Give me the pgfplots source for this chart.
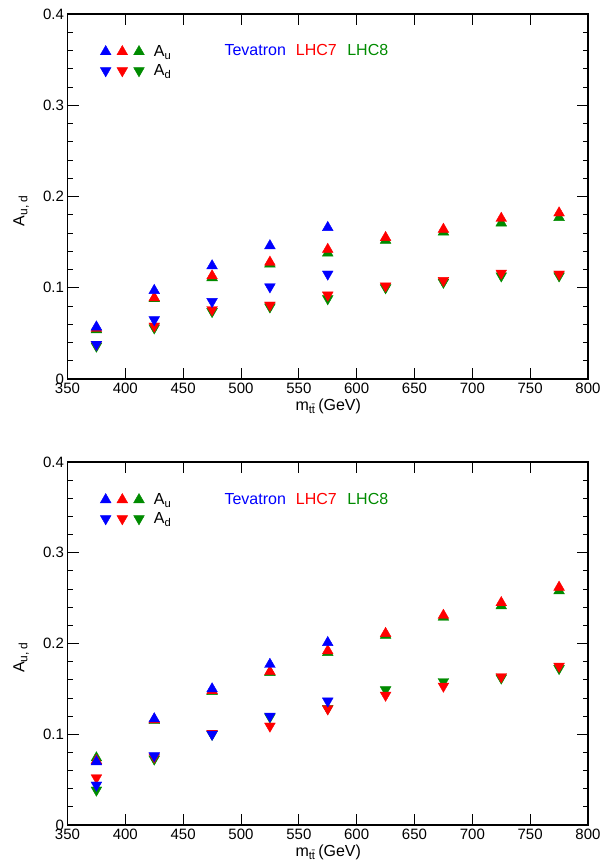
\documentclass[border=0pt]{standalone}
\usepackage{fontspec}
\setmainfont{Liberation Sans}
\usepackage{pgfplots}
\pgfplotsset{compat=1.18}
\usepackage{pgfplotstable}
\definecolor{gblue}{RGB}{0,0,255}
\definecolor{gred}{RGB}{255,0,0}
\definecolor{ggreen}{RGB}{0,139,0}

% top panel
\pgfplotstableread{
x up down
375 0.057 0.038
425 0.097 0.065
475 0.124 0.085
525 0.146 0.101
575 0.166 0.115
}\topTev
\pgfplotstableread{
x up down
375 0.0555 0.038
425 0.089 0.058
475 0.113 0.076
525 0.128 0.081
575 0.142 0.092
625 0.155 0.102
675 0.164 0.108
725 0.176 0.116
775 0.182 0.115
}\topLHCseven
\pgfplotstableread{
x up down
375 0.054 0.036
425 0.088 0.056
475 0.111 0.074
525 0.126 0.079
575 0.138 0.088
625 0.152 0.100
675 0.161 0.106
725 0.171 0.113
775 0.177 0.113
}\topLHCeight
% bottom panel
\pgfplotstableread{
x up down
375 0.0697 0.044
425 0.117 0.0763
475 0.150 0.100
525 0.177 0.120
575 0.201 0.1366
}\botTev
\pgfplotstableread{
x up down
375 0.071 0.052
425 0.116 0.075
475 0.148 0.101
525 0.169 0.109
575 0.192 0.128
625 0.211 0.143
675 0.231 0.153
725 0.245 0.1635
775 0.262 0.175
}\botLHCseven
\pgfplotstableread{
x up down
375 0.074 0.0385
425 0.115 0.0727
475 0.147 0.100
525 0.168 0.119
575 0.190 0.1285
625 0.209 0.149
675 0.229 0.158
725 0.2415 0.162
775 0.258 0.1725
}\botLHCeight

\newcommand{\legtri}[3]{\draw[#1,fill=#1] plot[only marks,mark=triangle*,mark size=6.2pt,mark options={rotate=#3}] coordinates {(#2,0pt)};}

\pgfplotsset{
  panel/.style={
    scale only axis,
    width=520.5pt,
    xmin=350, xmax=800, ymin=0, ymax=0.4,
    xtick={350,400,...,800},
    ytick={0,0.1,0.2,0.3,0.4},
    minor y tick num=4,
    tick align=inside,
    major tick length=11pt,
    minor tick length=5.5pt,
    axis line style={line width=1.2pt},
    every tick/.style={black, line width=0.9pt},
    /pgf/number format/assume math mode=true,
    ticklabel style={font=\fontsize{15}{18}\selectfont},
    label style={font=\fontsize{16}{19}\selectfont},
    xlabel={m\textsubscript{t\={t}}\,(GeV)},
    ylabel={A\raisebox{-0.35ex}{\fontsize{12}{14}\selectfont u,\hspace{2.5pt}d}},
    xlabel style={at={(axis description cs:0.5,0)}, anchor=center, yshift=-27pt, xshift=0.5pt},
    ylabel style={at={(axis description cs:-0.089,0.46)}, anchor=center},
    legend style={draw=none, fill=none, at={(rel axis cs:0,1)}, anchor=north west,
      xshift=32.2pt, yshift=-28.2pt, inner sep=0pt, outer sep=0pt, row sep=0pt,
      column sep=0pt, nodes={inner sep=0pt}},
    clip=false,
  },
  upm/.style={only marks, mark=triangle*, mark size=6.2pt, draw=#1, fill=#1, mark options={draw=#1, fill=#1}, forget plot},
  dnm/.style={only marks, mark=triangle*, mark size=6.2pt, draw=#1, fill=#1, mark options={draw=#1, fill=#1, rotate=180}, forget plot},
}

\newcommand{\legendimages}{%
  \addlegendimage{legend image code/.code={%
    \path[draw=none,fill=none] (-6pt,-9.5pt) rectangle (75pt,9.5pt);
    \legtri{gblue}{0pt}{0}\legtri{gred}{16.6pt}{0}\legtri{ggreen}{33.3pt}{0}%
    \node[black, anchor=base west, inner sep=0pt, font=\fontsize{16}{19}\selectfont] at (48.3pt,-5pt) {A\textsubscript{u}};}}
  \addlegendentry{}
  \addlegendimage{legend image code/.code={%
    \path[draw=none,fill=none] (-6pt,-9.5pt) rectangle (75pt,9.5pt);
    \legtri{gblue}{0pt}{180}\legtri{gred}{16.6pt}{180}\legtri{ggreen}{33.3pt}{180}%
    \node[black, anchor=base west, inner sep=0pt, font=\fontsize{16}{19}\selectfont] at (48.3pt,-5pt) {A\textsubscript{d}};}}
  \addlegendentry{}
}

\begin{document}
\begin{tikzpicture}[font=\fontsize{16}{19}\selectfont]
% ---------------- top panel ----------------
\begin{axis}[panel, height=365pt, at={(0,446pt)}, anchor=south west]
\legendimages
\addplot[upm=ggreen] table[x=x,y=up] {\topLHCeight};
\addplot[upm=gred] table[x=x,y=up] {\topLHCseven};
\addplot[upm=gblue] table[x=x,y=up] {\topTev};
\addplot[dnm=ggreen] table[x=x,y=down] {\topLHCeight};
\addplot[dnm=gred] table[x=x,y=down] {\topLHCseven};
\addplot[dnm=gblue] table[x=x,y=down] {\topTev};
\node[anchor=base west, inner sep=0pt] at (axis cs:485.6,0.3543) {\textcolor{gblue}{Tevatron}\hspace{10pt}\textcolor{gred}{LHC7}\hspace{10.5pt}\textcolor{ggreen}{LHC8}};
\end{axis}
% ---------------- bottom panel ----------------
\begin{axis}[panel, height=363pt, at={(0,0)}, anchor=south west]
\legendimages
\addplot[upm=ggreen] table[x=x,y=up] {\botLHCeight};
\addplot[upm=gred] table[x=x,y=up] {\botLHCseven};
\addplot[upm=gblue] table[x=x,y=up] {\botTev};
\addplot[dnm=ggreen] table[x=x,y=down] {\botLHCeight};
\addplot[dnm=gred] table[x=x,y=down] {\botLHCseven};
\addplot[dnm=gblue] table[x=x,y=down] {\botTev};
\node[anchor=base west, inner sep=0pt] at (axis cs:485.6,0.3537) {\textcolor{gblue}{Tevatron}\hspace{10pt}\textcolor{gred}{LHC7}\hspace{10.5pt}\textcolor{ggreen}{LHC8}};
\end{axis}
\pgfresetboundingbox
\useasboundingbox (-67.5pt,-42pt) rectangle (547.5pt,825pt);
\end{tikzpicture}
\end{document}
